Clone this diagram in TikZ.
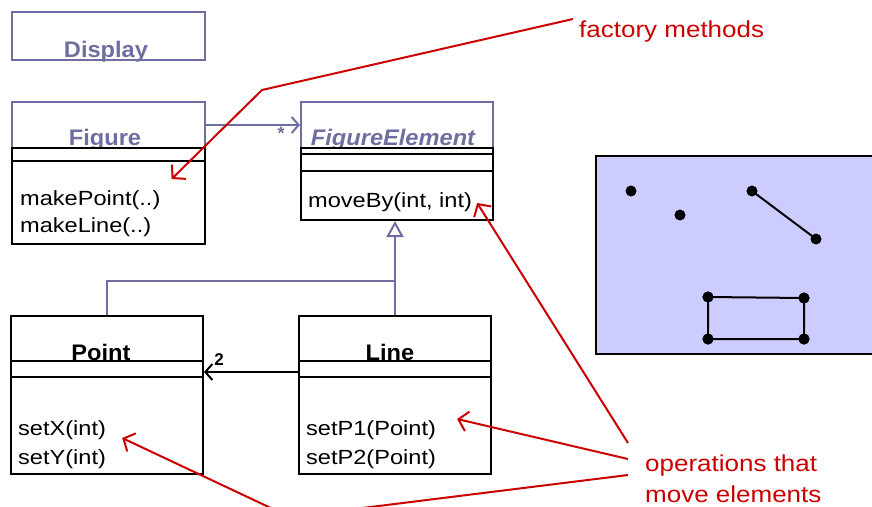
\documentclass[tikz,border=0pt]{standalone}
\usepackage{fontspec}
\setmainfont{Liberation Sans}
\newfontfamily\regfont[FakeStretch=1.15]{Liberation Sans}
\newfontfamily\notefont[FakeStretch=1.13]{Liberation Sans}
\newfontfamily\titlefont[FakeStretch=1.05]{Liberation Sans}
\usetikzlibrary{arrows.meta}
\definecolor{umlblue}{RGB}{110,110,160}
\definecolor{notered}{RGB}{204,0,0}
\definecolor{panelfill}{RGB}{204,204,255}
\tikzset{
  hdrbox/.style={draw=umlblue, line width=2pt, inner sep=0pt, anchor=north west},
  clsbox/.style={draw=black, line width=2pt, fill=white, inner sep=0pt, anchor=north west},
  compline/.style={draw=black, line width=2pt},
  umlline/.style={draw=umlblue, line width=2pt},
  title/.style={inner sep=0pt, anchor=base, text=umlblue, font=\titlefont\bfseries\fontsize{22.5}{26}\selectfont},
  blacktitle/.style={title, text=black},
  member/.style={inner sep=0pt, anchor=base west, font=\regfont\fontsize{20.5}{24}\selectfont},
  mult/.style={inner sep=0pt, font=\bfseries\fontsize{17}{19}\selectfont},
  note/.style={inner sep=0pt, anchor=base west, text=notered, font=\notefont\fontsize{23}{27}\selectfont},
  noteline/.style={draw=notered, line width=2pt},
  notearrow/.style={noteline, -{Straight Barb[length=9pt,width=20pt]}},
  openarrow/.style={-{Straight Barb[length=7pt,width=16pt]}},
  genarrow/.style={-{Triangle[length=16pt,width=17pt,fill=white]}},
  dot/.style={circle, fill=black, inner sep=0pt, minimum size=11pt},
  shape line/.style={draw=black, line width=2pt}
}
\begin{document}
\begin{tikzpicture}[x=1pt, y=-1pt]
\useasboundingbox (0,0) rectangle (872,506);
\clip (0,0) rectangle (872,506);

% Display class
\node[hdrbox, minimum width=193pt, minimum height=48pt] (display) at (11,11) {};
\node[title] (displaytitle) at (106,57) {Display};

% Figure class
\node[hdrbox, minimum width=193pt, minimum height=46pt] (fighdr) at (11,101) {};
\node[title] (figtitle) at (105,145) {Figure};
\node[clsbox, minimum width=193pt, minimum height=96pt] (figbody) at (11,147) {};
\draw[compline] (figbody.west |- 0,161) -- (figbody.east |- 0,161);
\node[member] (makepoint) at (20,205) {makePoint(..)};
\node[member] (makeline) at (20,232) {makeLine(..)};

% FigureElement class
\node[hdrbox, minimum width=192pt, minimum height=46pt] (fehdr) at (300,101) {};
\node[title, font=\titlefont\bfseries\itshape\fontsize{22.5}{26}\selectfont] (fetitle) at (393,145) {FigureElement};
\node[clsbox, minimum width=192pt, minimum height=72pt] (febody) at (300,147) {};
\draw[compline] (febody.west |- 0,154) -- (febody.east |- 0,154);
\draw[compline] (febody.west |- 0,171) -- (febody.east |- 0,171);
\node[member] (moveby) at (308,207) {moveBy(int, int)};

% Point class
\node[clsbox, minimum width=192pt, minimum height=158pt] (pointbody) at (10,315) {};
\node[blacktitle] (pointtitle) at (101,360) {Point};
\draw[compline] (pointbody.west |- 0,361) -- (pointbody.east |- 0,361);
\draw[compline] (pointbody.west |- 0,377) -- (pointbody.east |- 0,377);
\node[member] (setx) at (18,435) {setX(int)};
\node[member] (sety) at (18,464) {setY(int)};

% Line class
\node[clsbox, minimum width=192pt, minimum height=158pt] (linebody) at (298,315) {};
\node[blacktitle] (linetitle) at (390,360) {Line};
\draw[compline] (linebody.west |- 0,361) -- (linebody.east |- 0,361);
\draw[compline] (linebody.west |- 0,377) -- (linebody.east |- 0,377);
\node[member] (setpa) at (306,435) {setP1(Point)};
\node[member] (setpb) at (306,464) {setP2(Point)};

% Figure --* FigureElement
\draw[umlline, openarrow] (fighdr.east) -- (fehdr.west);
\node[mult, text=umlblue, anchor=base, font=\bfseries\fontsize{18}{20}\selectfont] (star) at (281,139) {*};

% generalization Point, Line --|> FigureElement
\coordinate (genjoin) at (394,281);
\draw[umlline, genarrow] (linebody.north) -- (linebody.north |- febody.south);
\draw[umlline] (pointbody.north) -- (pointbody.north |- genjoin) -- (genjoin);

% Line --2--> Point
\draw[compline, openarrow] (linebody.west |- 0,372) -- (pointbody.east |- 0,372);
\node[mult, anchor=base] (two) at (219,365) {2};

% display panel with the drawn elements
\node[draw=black, line width=2pt, fill=panelfill, inner sep=0pt, anchor=north west,
      minimum width=290pt, minimum height=198pt] (panel) at (595,155) {};
\node[dot] (pa) at (631,191) {};
\node[dot] (pb) at (680,215) {};
\node[dot] (la) at (752,191) {};
\node[dot] (lb) at (816,239) {};
\draw[shape line] (la.center) -- (lb.center);
\node[dot] (ra) at (708,297) {};
\node[dot] (rb) at (804,298) {};
\node[dot] (rc) at (804,339) {};
\node[dot] (rd) at (708,339) {};
\draw[shape line] (ra.center) -- (rb.center) -- (rc.center) -- (rd.center) -- cycle;
\foreach \d in {ra,rb,rc,rd} \node[dot] at (\d) {};

% annotations
\node[note] (factory) at (579,37) {factory methods};
\coordinate (factstart) at ([shift={(-6,-18)}]factory.base west);
\coordinate (factbend) at (262,90);
\draw[notearrow] (factstart) -- (factbend) -- ([shift={(11,-26)}]makepoint.base east);

\node[note] (opsa) at (645,471) {operations that};
\node[note] (opsb) at (645,502) {move elements};
\coordinate (opsm) at ([shift={(-17,-28)}]opsa.base west);
\coordinate (opsp) at ([shift={(-17,-12)}]opsa.base west);
\coordinate (opss) at ([shift={(-17,4)}]opsa.base west);
\coordinate (opsbend) at (290,517);
\draw[notearrow] (opsm) -- ([shift={(5,-4)}]moveby.base east);
\draw[notearrow] (opsp) -- ([shift={(21,-16)}]setpa.base east);
\draw[notearrow] (opss) -- (opsbend) -- ([shift={(16,3)}]setx.base east);
\end{tikzpicture}
\end{document}
